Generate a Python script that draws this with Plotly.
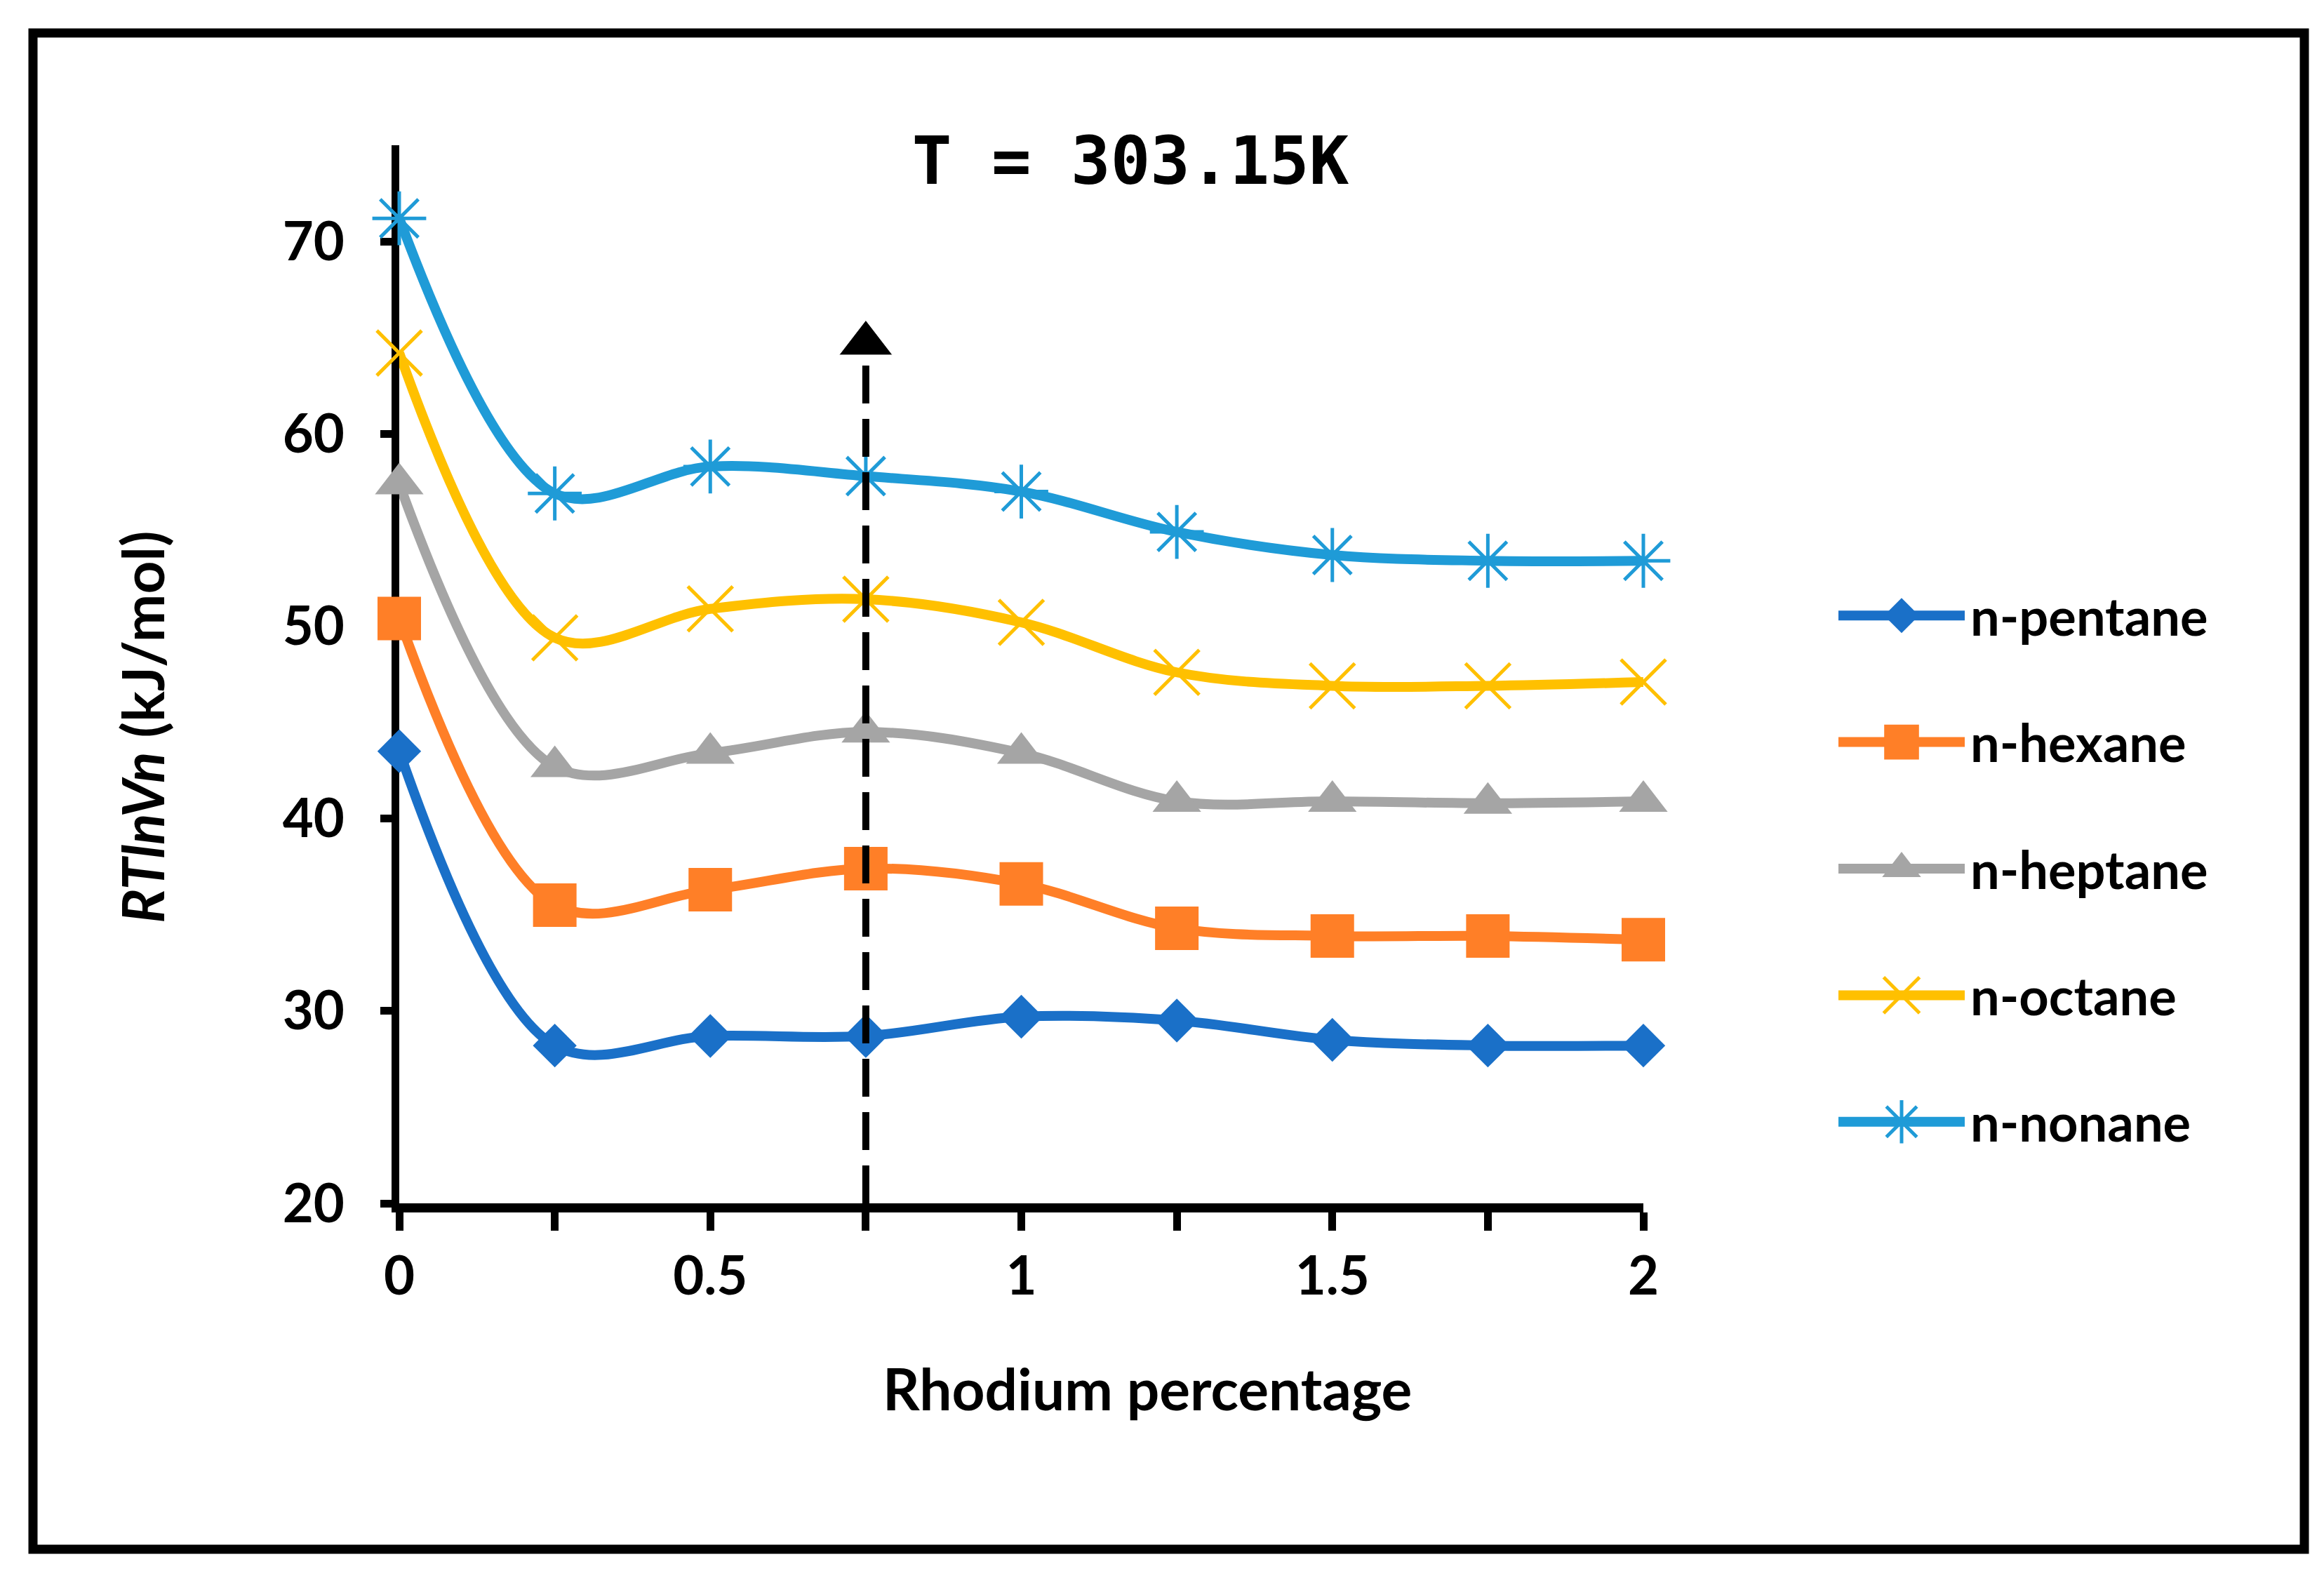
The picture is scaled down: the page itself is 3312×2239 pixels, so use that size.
import plotly.graph_objects as go

# data
rhodium = [0, 0.25, 0.5, 0.75, 1, 1.25, 1.5, 1.75, 2]
pentane = [43.5, 28.2, 28.7, 28.7, 29.7, 29.5, 28.5, 28.2, 28.2]
hexane = [50.4, 35.5, 36.3, 37.4, 36.6, 34.3, 33.9, 33.9, 33.7]
heptane = [57.4, 42.7, 43.4, 44.5, 43.4, 40.9, 40.9, 40.8, 40.9]
octane = [64.2, 49.4, 50.9, 51.4, 50.2, 47.6, 46.9, 46.9, 47.1]
nonane = [71.2, 56.9, 58.3, 57.8, 57.0, 54.9, 53.7, 53.4, 53.4]

names = ["n-pentane", "n-hexane", "n-heptane", "n-octane", "n-nonane"]
colors = ["#1A70C8", "#FF7F27", "#A5A5A5", "#FFC000", "#1F9BD7"]
symbols = ["diamond", "square", "triangle-up", "x-thin", "asterisk-open"]
sizes = [48, 62, 60, 64, 64]

x_ticks = [0, 0.25, 0.5, 0.75, 1, 1.25, 1.5, 1.75, 2]
x_labels = ["0", "", "0.5", "", "1", "", "1.5", "", "2"]
y_ticks = [20, 30, 40, 50, 60, 70]
arrow_x = 0.75
arrow_y = [20, 64.7]

series = [pentane, hexane, heptane, octane, nonane]

W, H = 3312, 2239
ML, MR, MT, MB = 569, 200, 207, 524
pw = W - ML - MR
ph = H - MT - MB
main_right = 2342


def px(v):
    return (v - ML) / pw


def py(v):
    return (MT + ph - v) / ph


fig = go.Figure()

for name, vals, col, sym, sz in zip(names, series, colors, symbols, sizes):
    open_sym = sym in ("x-thin", "asterisk-open")
    fig.add_trace(go.Scatter(
        x=rhodium, y=vals, name=name, mode="lines+markers",
        line=dict(color=col, width=14, shape="spline", smoothing=1.0),
        marker=dict(symbol=sym, size=sz, color=col, opacity=1,
                    line=dict(color=col, width=5 if open_sym else 0)),
        cliponaxis=False, showlegend=False))

# dashed arrow at 0.75 % Rh
fig.add_trace(go.Scatter(
    x=[arrow_x, arrow_x], y=arrow_y, mode="lines+markers",
    line=dict(color="black", width=10, dash="54px,22px"),
    marker=dict(symbol="triangle-up", size=[0, 66], color="black", opacity=1),
    cliponaxis=False, showlegend=False))

# legend drawn on its own small axes so the line samples are long
for i, (name, col, sym, sz) in enumerate(zip(names, colors, symbols, sizes)):
    open_sym = sym in ("x-thin", "asterisk-open")
    row = len(names) - 1 - i
    fig.add_trace(go.Scatter(
        x=[0, 0.5, 1], y=[row, row, row], mode="lines+markers",
        line=dict(color=col, width=14),
        marker=dict(symbol=sym, size=[0, sz * 0.8, 0], color=col, opacity=1,
                    line=dict(color=col, width=5 if open_sym else 0)),
        xaxis="x2", yaxis="y2", cliponaxis=False, showlegend=False))
    fig.add_annotation(x=1, y=row, xref="x2", yref="y2", text="<b>%s</b>" % name,
                       showarrow=False, xanchor="left", yanchor="middle", xshift=6,
                       font=dict(family="Lato", size=74, color="black"))

font = dict(family="Lato", size=76, color="black")

fig.update_layout(
    width=W, height=H,
    margin=dict(l=ML, r=MR, t=MT, b=MB),
    paper_bgcolor="white", plot_bgcolor="white",
    title=dict(text="<b>T = 303.15K</b>", xref="paper", x=px(1611),
               xanchor="center", yref="container", y=1 - 229 / H, yanchor="middle",
               font=dict(family="DejaVu Sans Mono", size=94, color="black")),
    xaxis=dict(domain=[0, px(main_right)], range=[0, 2],
               tickvals=x_ticks, ticktext=["<b>%s</b>" % t if t else "" for t in x_labels],
               ticks="outside", ticklen=26, tickwidth=11, tickcolor="black",
               showline=True, linewidth=13, linecolor="black", showgrid=False,
               zeroline=False, tickfont=font, ticklabelstandoff=0,
               layer="below traces"),
    yaxis=dict(range=[20, 75], tickvals=y_ticks,
               ticktext=["<b>%d</b>" % v for v in y_ticks],
               ticks="outside", ticklen=16, tickwidth=11, tickcolor="black",
               showline=True, linewidth=11, linecolor="black", showgrid=False,
               zeroline=False, tickfont=font, ticklabelstandoff=36,
               layer="below traces"),
    xaxis2=dict(domain=[px(2620), px(2800)], range=[0, 1],
                visible=False, anchor="y2"),
    yaxis2=dict(domain=[py(1689), py(787)], range=[-0.5, 4.5],
                visible=False, anchor="x2"),
)

# axis titles
fig.add_annotation(x=px(202), y=py(1036), xref="paper", yref="paper",
                   xanchor="center", yanchor="middle",
                   text="<b><i>RTlnVn</i> (kJ/mol)</b>", textangle=-90, showarrow=False,
                   font=dict(family="Lato", size=82, color="black"))
fig.add_annotation(x=px(1635), y=py(1978), xref="paper", yref="paper",
                   xanchor="center", yanchor="middle",
                   text="<b>Rhodium percentage</b>", showarrow=False,
                   font=dict(family="Lato", size=82, color="black"))

# outer frame
fig.add_shape(type="rect", xref="paper", yref="paper",
              x0=px(47), x1=px(3284), y0=py(2208), y1=py(47),
              line=dict(color="black", width=13))

fig.write_html("out.html", config={"displayModeBar": False},
               post_script="document.body.style.margin='0';")
